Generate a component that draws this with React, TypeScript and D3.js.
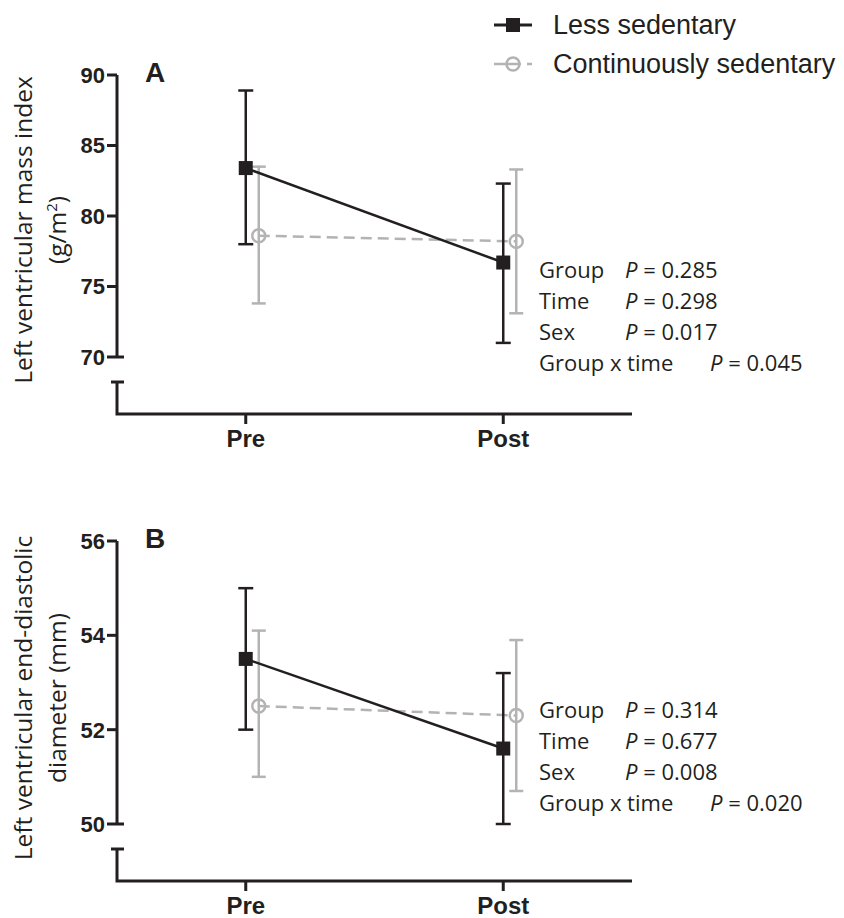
import React from "react";
import * as d3 from "d3";

const timepoints = ["Pre", "Post"];

const lvmiLessMean = [83.4, 76.7];
const lvmiLessLow = [78.0, 71.0];
const lvmiLessHigh = [88.9, 82.3];
const lvmiContMean = [78.6, 78.2];
const lvmiContLow = [73.8, 73.1];
const lvmiContHigh = [83.5, 83.3];

const lvedLessMean = [53.5, 51.6];
const lvedLessLow = [52.0, 50.0];
const lvedLessHigh = [55.0, 53.2];
const lvedContMean = [52.5, 52.3];
const lvedContLow = [51.0, 50.7];
const lvedContHigh = [54.1, 53.9];

const lvmiTicks = [70, 75, 80, 85, 90];
const lvedTicks = [50, 52, 54, 56];

const lvmiStats = [
  ["Group", "0.285"],
  ["Time", "0.298"],
  ["Sex", "0.017"],
  ["Group x time", "0.045"],
];
const lvedStats = [
  ["Group", "0.314"],
  ["Time", "0.677"],
  ["Sex", "0.008"],
  ["Group x time", "0.020"],
];

const legendLabels = ["Less sedentary", "Continuously sedentary"];

const BLACK = "#231f20";
const GRAY = "#b3b3b5";
const ARIAL = "'Liberation Sans', Arial, sans-serif";
const BODY = "'Open Sans', sans-serif";

type PanelProps = {
  letter: string;
  top: number;
  bottom: number;
  domain: [number, number];
  ticks: number[];
  lessMean: number[];
  lessLow: number[];
  lessHigh: number[];
  contMean: number[];
  contLow: number[];
  contHigh: number[];
  stats: string[][];
  statsY: number;
  titleLines: React.ReactNode[];
  titleCenter: number;
};

function Panel(p: PanelProps) {
  const x0 = 117;
  const x1 = 632;
  const x = d3.scalePoint<string>().domain(timepoints).range([x0, x1]).padding(0.5);
  const y = d3.scaleLinear().domain(p.domain).range([p.bottom, p.top]);
  const off = 13;
  const capY = p.bottom + 25;
  const axisY = p.bottom + 57;
  const lineGen = d3
    .line<number>()
    .x((_, i) => x(timepoints[i])!)
    .y((d) => y(d));
  const lineGenC = d3
    .line<number>()
    .x((_, i) => x(timepoints[i])! + off)
    .y((d) => y(d));

  return (
    <g>
      {p.titleLines.map((t, i) => (
        <text
          key={i}
          transform={`translate(${32 + i * 34},${p.titleCenter}) rotate(-90)`}
          textAnchor="middle"
          fontFamily={BODY}
          fontSize={24.5}
          fill={BLACK}
        >
          {t}
        </text>
      ))}
      <line x1={x0} x2={x0} y1={y(p.domain[1])} y2={p.bottom} stroke={BLACK} strokeWidth={3} />
      {p.ticks.map((t) => (
        <g key={t}>
          <line
            x1={x0 - 10}
            x2={t === p.domain[0] ? x0 + 7 : x0}
            y1={y(t)}
            y2={y(t)}
            stroke={BLACK}
            strokeWidth={3}
          />
          <text
            x={x0 - 12}
            y={y(t)}
            dy="0.36em"
            textAnchor="end"
            fontFamily={ARIAL}
            fontWeight="bold"
            fontSize={22}
            fill={BLACK}
          >
            {t}
          </text>
        </g>
      ))}
      <line x1={x0 - 6} x2={x0 + 7} y1={capY} y2={capY} stroke={BLACK} strokeWidth={3} />
      <path d={`M${x0},${capY}V${axisY}H${x1}`} fill="none" stroke={BLACK} strokeWidth={3} />
      {timepoints.map((t) => (
        <g key={t}>
          <line x1={x(t)} x2={x(t)} y1={axisY} y2={axisY + 10} stroke={BLACK} strokeWidth={3} />
          <text
            x={x(t)}
            y={axisY + 33}
            textAnchor="middle"
            fontFamily={ARIAL}
            fontWeight="bold"
            fontSize={24}
            fill={BLACK}
          >
            {t}
          </text>
        </g>
      ))}
      <text x={145} y={y(p.domain[1]) + 7} fontFamily={ARIAL} fontWeight="bold" fontSize={28} fill={BLACK}>
        {p.letter}
      </text>
      {timepoints.map((t, i) => (
        <g key={"c" + t} stroke={GRAY} strokeWidth={2.5}>
          <line x1={x(t)! + off} x2={x(t)! + off} y1={y(p.contLow[i])} y2={y(p.contHigh[i])} />
          <line x1={x(t)! + off - 7} x2={x(t)! + off + 7} y1={y(p.contLow[i])} y2={y(p.contLow[i])} />
          <line x1={x(t)! + off - 7} x2={x(t)! + off + 7} y1={y(p.contHigh[i])} y2={y(p.contHigh[i])} />
        </g>
      ))}
      <path d={lineGenC(p.contMean)!} fill="none" stroke={GRAY} strokeWidth={2.5} strokeDasharray="11,6" />
      {timepoints.map((t, i) => (
        <circle key={"cc" + t} cx={x(t)! + off} cy={y(p.contMean[i])} r={6.5} fill="none" stroke={GRAY} strokeWidth={2.5} />
      ))}
      {timepoints.map((t, i) => (
        <g key={"l" + t} stroke={BLACK} strokeWidth={2.5}>
          <line x1={x(t)} x2={x(t)} y1={y(p.lessLow[i])} y2={y(p.lessHigh[i])} />
          <line x1={x(t)! - 7.5} x2={x(t)! + 7.5} y1={y(p.lessLow[i])} y2={y(p.lessLow[i])} />
          <line x1={x(t)! - 7.5} x2={x(t)! + 7.5} y1={y(p.lessHigh[i])} y2={y(p.lessHigh[i])} />
        </g>
      ))}
      <path d={lineGen(p.lessMean)!} fill="none" stroke={BLACK} strokeWidth={2.5} />
      {timepoints.map((t, i) => (
        <rect key={"lr" + t} x={x(t)! - 7} y={y(p.lessMean[i]) - 7} width={14} height={14} fill={BLACK} />
      ))}
      {p.stats.map((s, i) => (
        <text key={i} y={p.statsY + i * 31} fontFamily={BODY} fontSize={22} fill={BLACK}>
          <tspan x={539}>{s[0]}</tspan>
          <tspan x={i === 3 ? 710 : 625} fontStyle="italic">P</tspan>
          <tspan> = {s[1]}</tspan>
        </text>
      ))}
    </g>
  );
}

export default function App() {
  return (
    <svg width={844} height={918} style={{ position: "absolute", left: 0, top: 0, background: "#fff" }}>
      <rect width={844} height={918} fill="#fff" />
      <g>
        <line x1={494} x2={532} y1={25} y2={25} stroke={BLACK} strokeWidth={3} />
        <rect x={506} y={18} width={14} height={14} fill={BLACK} />
        <line x1={494} x2={521} y1={64} y2={64} stroke={GRAY} strokeWidth={2.5} />
        <circle cx={513} cy={64} r={6.5} fill="#fff" stroke={GRAY} strokeWidth={2.5} />
        <line x1={507} x2={519} y1={64} y2={64} stroke={GRAY} strokeWidth={2.5} />
        <line x1={527} x2={532} y1={64} y2={64} stroke={GRAY} strokeWidth={2.5} />
        <text x={553} y={34} fontFamily={ARIAL} fontSize={27} fill={BLACK}>
          {legendLabels[0]}
        </text>
        <text x={553} y={73} fontFamily={ARIAL} fontSize={27} fill={BLACK}>
          {legendLabels[1]}
        </text>
      </g>
      <Panel
        letter="A"
        top={75}
        bottom={357}
        domain={[70, 90]}
        ticks={lvmiTicks}
        lessMean={lvmiLessMean}
        lessLow={lvmiLessLow}
        lessHigh={lvmiLessHigh}
        contMean={lvmiContMean}
        contLow={lvmiContLow}
        contHigh={lvmiContHigh}
        stats={lvmiStats}
        statsY={278}
        titleLines={[
          "Left ventricular mass index",
          <>
            (g/m<tspan dy="-9" fontSize={15}>2</tspan>
            <tspan dy="9">)</tspan>
          </>,
        ]}
        titleCenter={230}
      />
      <Panel
        letter="B"
        top={541}
        bottom={824}
        domain={[50, 56]}
        ticks={lvedTicks}
        lessMean={lvedLessMean}
        lessLow={lvedLessLow}
        lessHigh={lvedLessHigh}
        contMean={lvedContMean}
        contLow={lvedContLow}
        contHigh={lvedContHigh}
        stats={lvedStats}
        statsY={718}
        titleLines={["Left ventricular end-diastolic", "diameter (mm)"]}
        titleCenter={698}
      />
    </svg>
  );
}
